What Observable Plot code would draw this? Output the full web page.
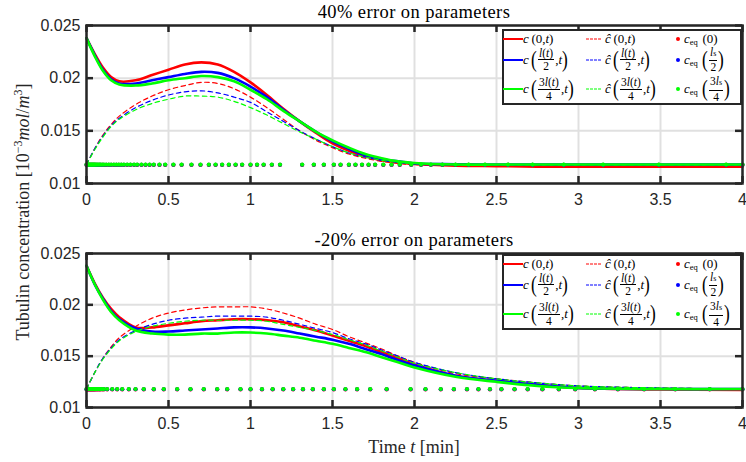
<!DOCTYPE html>
<html>
<head>
<meta charset="utf-8">
<script src="https://cdn.jsdelivr.net/npm/d3@7"></script>
<script src="https://cdn.jsdelivr.net/npm/@observablehq/plot@0.6"></script>
<style>
  html, body { margin: 0; padding: 0; background: #fff; }
  #wrap { position: relative; width: 746px; height: 462px; overflow: hidden; background: #fff; }
  .abs { position: absolute; }
  .title { font-family: "Liberation Serif", serif; font-size: 18.5px; color: #000; white-space: nowrap; transform: translate(-50%, -50%); letter-spacing: 0.4px; }
  .ylab { font-family: "Liberation Serif", serif; font-size: 18px; color: #262626; white-space: nowrap; transform: translate(-50%, -50%) rotate(-90deg); }
  .xlab { font-family: "Liberation Serif", serif; font-size: 18px; color: #262626; white-space: nowrap; transform: translate(-50%, -50%); }
  .legend { position: absolute; box-sizing: border-box; border: 2.5px solid #262626; background: #fff; width: 240px; height: 76px; }
  .lg { position: absolute; display: flex; align-items: center; transform: translateY(-50%); font-family: "Liberation Serif", serif; font-size: 13px; line-height: 14px; color: #000; white-space: nowrap; }
  .frac { display: inline-flex; flex-direction: column; align-items: center; font-size: 11.5px; line-height: 12.5px; margin: 0 1px; }
  .frac .num { border-bottom: 0.9px solid #000; padding: 0 1px; }
  .bp { display: inline-block; font-size: 23px; line-height: 24px; transform: scaleX(0.75); margin: 0 -1px; font-weight: 300; }
  .sub { font-size: 8.5px; position: relative; top: 3px; margin-right: 2px; }
  .sw { position: absolute; transform: translateY(-50%); }
</style>
</head>
<body>
<div id="wrap"></div>
<script>
// ---------------- data ----------------
const tGrid = [0, 0.05, 0.1, 0.15, 0.2, 0.3, 0.4, 0.5, 0.6, 0.7, 0.8, 0.9, 1.0, 1.1, 1.2, 1.3, 1.4, 1.5, 1.6, 1.7, 1.8, 1.9, 2.0, 2.25, 2.5, 2.75, 3, 3.5, 4];

// Panel 1: 40% error on parameters
const p1cRed   = [0.0238, 0.0223, 0.0210, 0.0201, 0.0197, 0.0198, 0.0203, 0.0208, 0.0213, 0.0215, 0.0213, 0.0206, 0.0196, 0.0184, 0.0171, 0.0159, 0.0148, 0.0138, 0.0131, 0.0126, 0.0122, 0.0120, 0.01185, 0.0117, 0.01165, 0.0116, 0.0116, 0.0116, 0.0116];
const p1cBlue  = [0.0238, 0.0222, 0.0208, 0.0199, 0.0195, 0.0195, 0.0198, 0.0201, 0.0204, 0.0206, 0.0205, 0.0200, 0.0192, 0.0182, 0.0170, 0.0159, 0.0149, 0.0140, 0.0133, 0.0127, 0.0123, 0.0121, 0.0119, 0.01183, 0.0118, 0.0118, 0.0118, 0.0118, 0.0118];
const p1cGreen = [0.0238, 0.0221, 0.0207, 0.0198, 0.0194, 0.0193, 0.0195, 0.0198, 0.0200, 0.0202, 0.0201, 0.0197, 0.0189, 0.0180, 0.0169, 0.0159, 0.0149, 0.0141, 0.0134, 0.0128, 0.0124, 0.0121, 0.01195, 0.0118, 0.0118, 0.0118, 0.0118, 0.0118, 0.0118];
const p1hRed   = [0.0118, 0.0133, 0.0146, 0.0156, 0.0164, 0.0175, 0.0183, 0.0189, 0.0193, 0.0196, 0.0195, 0.0190, 0.0182, 0.0172, 0.0161, 0.0150, 0.0141, 0.0134, 0.0128, 0.0124, 0.0121, 0.0119, 0.0118, 0.01175, 0.0117, 0.0117, 0.01175, 0.0118, 0.0118];
const p1hBlue  = [0.0118, 0.0133, 0.0145, 0.0155, 0.0162, 0.0172, 0.0179, 0.0184, 0.0187, 0.0188, 0.0186, 0.0182, 0.0177, 0.0168, 0.0159, 0.0150, 0.0142, 0.0135, 0.0129, 0.0125, 0.0122, 0.0120, 0.0119, 0.0118, 0.0118, 0.0118, 0.0118, 0.0118, 0.0118];
const p1hGreen = [0.0118, 0.0132, 0.0144, 0.0154, 0.0161, 0.0170, 0.0176, 0.0180, 0.0183, 0.0183, 0.0182, 0.0178, 0.0172, 0.0165, 0.0157, 0.0149, 0.0142, 0.0135, 0.0129, 0.0125, 0.0122, 0.0120, 0.0119, 0.0118, 0.0118, 0.0118, 0.0118, 0.0118, 0.0118];

// Panel 2: -20% error on parameters
const p2cRed   = [0.0238, 0.0221, 0.0207, 0.0196, 0.0188, 0.0178, 0.0178, 0.0180, 0.0182, 0.0184, 0.0185, 0.0186, 0.0186, 0.0185, 0.0183, 0.0179, 0.0175, 0.0170, 0.0165, 0.0160, 0.0154, 0.0148, 0.0142, 0.0131, 0.0126, 0.0122, 0.0119, 0.01175, 0.0117];
const p2cBlue  = [0.0238, 0.0220, 0.0206, 0.0194, 0.0186, 0.0177, 0.0174, 0.0174, 0.0175, 0.0176, 0.0177, 0.0178, 0.0178, 0.0177, 0.0175, 0.0172, 0.0169, 0.0166, 0.0162, 0.0157, 0.0152, 0.0146, 0.0141, 0.0131, 0.0126, 0.0122, 0.0119, 0.0118, 0.0118];
const p2cGreen = [0.0238, 0.0220, 0.0205, 0.0193, 0.0185, 0.0175, 0.0172, 0.0171, 0.0171, 0.0172, 0.0172, 0.0173, 0.0173, 0.0172, 0.0170, 0.0168, 0.0165, 0.0162, 0.0158, 0.0154, 0.0149, 0.0144, 0.0139, 0.0130, 0.0125, 0.0121, 0.0119, 0.0118, 0.0118];
const p2hRed   = [0.0118, 0.0134, 0.0148, 0.0159, 0.0168, 0.0179, 0.0187, 0.0192, 0.0195, 0.0197, 0.0198, 0.0198, 0.0198, 0.0196, 0.0192, 0.0187, 0.0181, 0.0176, 0.0169, 0.0163, 0.0157, 0.0150, 0.0144, 0.0133, 0.0128, 0.0124, 0.0121, 0.0119, 0.0118];
const p2hBlue  = [0.0118, 0.0134, 0.0148, 0.0158, 0.0166, 0.0175, 0.0181, 0.0185, 0.0187, 0.0188, 0.0189, 0.0189, 0.0189, 0.0188, 0.0185, 0.0181, 0.0177, 0.0173, 0.0167, 0.0162, 0.0156, 0.0150, 0.0144, 0.0134, 0.0128, 0.0124, 0.0121, 0.0119, 0.0118];
const p2hGreen = [0.0118, 0.0134, 0.0147, 0.0157, 0.0165, 0.0174, 0.0179, 0.0182, 0.0184, 0.0185, 0.0185, 0.0185, 0.0185, 0.0184, 0.0181, 0.0178, 0.0175, 0.0171, 0.0166, 0.0161, 0.0155, 0.0149, 0.0143, 0.0134, 0.0128, 0.0124, 0.0121, 0.0119, 0.0118];

// equilibrium concentrations (dots at solver time steps)
const eqValues = [0.01176, 0.01178, 0.0118]; // c_eq(0), c_eq(ls/2), c_eq(3ls/4)
const p1EqT = [0, 0.005, 0.01, 0.015, 0.02, 0.025, 0.03, 0.035, 0.04, 0.045, 0.05, 0.056, 0.063, 0.07, 0.078, 0.086, 0.096, 0.106, 0.12, 0.136, 0.15, 0.167, 0.182, 0.197, 0.212, 0.228, 0.248, 0.268, 0.29, 0.309, 0.335, 0.36, 0.385, 0.41, 0.445, 0.48, 0.53, 0.58, 0.64, 0.695, 0.746, 0.787, 0.827, 0.868, 0.909, 0.949, 1.0, 1.04, 1.08, 1.13, 1.18, 1.315, 1.386, 1.447, 1.508, 1.549, 1.6, 1.64, 1.68, 1.72, 1.76, 1.81, 1.86, 1.91, 1.98, 2.04, 2.1, 2.17, 2.25, 2.33, 2.43, 2.57, 2.72, 2.91, 3.15, 3.49, 3.9, 4.0];
const p2EqT = [0, 0.005, 0.01, 0.015, 0.02, 0.025, 0.03, 0.035, 0.04, 0.045, 0.05, 0.056, 0.063, 0.07, 0.078, 0.085, 0.096, 0.106, 0.126, 0.157, 0.187, 0.218, 0.258, 0.299, 0.349, 0.41, 0.471, 0.553, 0.634, 0.715, 0.797, 0.858, 0.939, 1.0, 1.07, 1.135, 1.2, 1.26, 1.32, 1.38, 1.447, 1.508, 1.579, 1.65, 1.73, 1.83, 1.976, 2.067, 2.16, 2.24, 2.32, 2.39, 2.46, 2.53, 2.61, 2.69, 2.78, 2.88, 2.98, 3.1, 3.24, 3.4, 3.59, 3.8, 4.0];

const xTicks = [0, 0.5, 1, 1.5, 2, 2.5, 3, 3.5, 4];
const xTickLabels = ["0", "0.5", "1", "1.5", "2", "2.5", "3", "3.5", "4"];
const yTicks = [0.01, 0.015, 0.02, 0.025];
const yTickLabels = ["0.01", "0.015", "0.02", "0.025"];
const colors = ["#ff0000", "#0000ff", "#00ff00"];
const panelTitles = ["40% error on parameters", "-20% error on parameters"];

// ---------------- drawing ----------------
const wrap = document.getElementById("wrap");
const toRows = (ts, vs) => ts.map((t, i) => ({t, v: vs[i]}));

function panel(solid, dashed, eqT, top, innerH) {
  const W = 746, mt = 25, mb = 27, ml = 86, mr = 4;
  const H = mt + innerH + mb;
  const innerW = W - ml - mr;
  const ink = "#262626";
  const marks = [
    Plot.gridX(xTicks, {stroke: "#e0e0e0", strokeOpacity: 1, strokeWidth: 2}),
    Plot.gridY(yTicks, {stroke: "#e0e0e0", strokeOpacity: 1, strokeWidth: 2})
  ];
  for (let k = 0; k < 3; k++) {
    marks.push(Plot.line(toRows(tGrid, solid[k]), {x: "t", y: "v", stroke: colors[k], strokeWidth: 2.6, curve: "catmull-rom"}));
    marks.push(Plot.line(toRows(tGrid, dashed[k]), {x: "t", y: "v", stroke: colors[k], strokeWidth: 1.2, strokeDasharray: "4.5,3.5", curve: "catmull-rom"}));
    marks.push(Plot.dot(eqT.map(t => ({t, v: eqValues[k]})), {x: "t", y: "v", fill: colors[k], r: 2.1}));
  }
  marks.push(
    Plot.frame({stroke: ink, strokeWidth: 2.5}),
    Plot.tickX(xTicks, {x: d => d, stroke: ink, strokeWidth: 2.5, insetTop: innerH - 7}),
    Plot.tickX(xTicks, {x: d => d, stroke: ink, strokeWidth: 2.5, insetBottom: innerH - 7}),
    Plot.tickY(yTicks, {y: d => d, stroke: ink, strokeWidth: 2.5, insetLeft: innerW - 7}),
    Plot.tickY(yTicks, {y: d => d, stroke: ink, strokeWidth: 2.5, insetRight: innerW - 7}),
    Plot.axisX(xTicks, {anchor: "bottom", tickSize: 0, tickPadding: 10, fill: ink, fontSize: 16, tickFormat: d => xTickLabels[xTicks.indexOf(d)], label: null}),
    Plot.axisY(yTicks, {anchor: "left", tickSize: 0, tickPadding: 6, fill: ink, fontSize: 16, tickFormat: d => yTickLabels[yTicks.indexOf(d)], label: null})
  );
  const svg = Plot.plot({
    width: W, height: H,
    marginTop: mt, marginBottom: mb, marginLeft: ml, marginRight: mr,
    x: {domain: [0, 4]},
    y: {domain: [0.01, 0.025]},
    style: {fontFamily: "'Liberation Sans', Arial, sans-serif", fontSize: "16px", background: "transparent", color: ink},
    marks
  });
  svg.style.position = "absolute";
  svg.style.left = "0px";
  svg.style.top = top + "px";
  wrap.appendChild(svg);
}

panel([p1cRed, p1cBlue, p1cGreen], [p1hRed, p1hBlue, p1hGreen], p1EqT, 0, 158);
panel([p2cRed, p2cBlue, p2cGreen], [p2hRed, p2hBlue, p2hGreen], p2EqT, 228, 154);

function addDiv(cls, html, left, top) {
  const d = document.createElement("div");
  d.className = "abs " + cls;
  d.innerHTML = html;
  d.style.left = left + "px";
  d.style.top = top + "px";
  wrap.appendChild(d);
  return d;
}

addDiv("title", panelTitles[0], 414, 12);
addDiv("title", panelTitles[1], 414, 240);
addDiv("ylab", 'Tubulin concentration [10<sup style="font-size:12px">−3</sup><i>mol</i>/<i>m</i><sup style="font-size:12px">3</sup>]', 22, 212);
addDiv("xlab", 'Time <i>t</i> [min]', 414, 447);

// legend
const frac = (n, d) => `<span class="frac"><span class="num">${n}</span><span class="den">${d}</span></span>`;
const bp = s => `<span class="bp">${s}</span>`;
const legendArgs = [
  {c: `&thinsp;(0, <i>t</i>)`, eq: `&thinsp;(0)`},
  {c: `&thinsp;${bp("(")}${frac('<i>l</i>(<i>t</i>)', '2')}, <i>t</i>${bp(")")}`, eq: `&thinsp;${bp("(")}${frac('<i>l</i><span style="font-size:8px;font-style:normal">s</span>', '2')}${bp(")")}`},
  {c: `&thinsp;${bp("(")}${frac('3<i>l</i>(<i>t</i>)', '4')}, <i>t</i>${bp(")")}`, eq: `&thinsp;${bp("(")}${frac('3<i>l</i><span style="font-size:8px;font-style:normal">s</span>', '4')}${bp(")")}`}
];
const rowY = [7.5, 28.5, 58];

function legend(top) {
  const box = document.createElement("div");
  box.className = "legend";
  box.style.left = "502px";
  box.style.top = top + "px";
  wrap.appendChild(box);
  for (let k = 0; k < 3; k++) {
    const y = rowY[k];
    const s1 = document.createElement("div");
    s1.className = "sw";
    s1.style.cssText += `left:-1px;top:${y}px;width:20px;height:0;border-top:2.6px solid ${colors[k]};`;
    box.appendChild(s1);
    const s2 = document.createElement("div");
    s2.className = "sw";
    s2.style.cssText += `left:82px;top:${y}px;width:15px;height:0;border-top:1.2px dashed ${colors[k]};`;
    box.appendChild(s2);
    const s3 = document.createElement("div");
    s3.className = "sw";
    s3.style.cssText += `left:172px;top:${y}px;width:4px;height:4px;border-radius:50%;background:${colors[k]};`;
    box.appendChild(s3);
    const t1 = document.createElement("div");
    t1.className = "lg";
    t1.style.left = "19px"; t1.style.top = y + "px";
    t1.innerHTML = `<i>c</i>${legendArgs[k].c}`;
    box.appendChild(t1);
    const t2 = document.createElement("div");
    t2.className = "lg";
    t2.style.left = "101px"; t2.style.top = y + "px";
    t2.innerHTML = `<i>ĉ</i>${legendArgs[k].c}`;
    box.appendChild(t2);
    const t3 = document.createElement("div");
    t3.className = "lg";
    t3.style.left = "180px"; t3.style.top = y + "px";
    t3.innerHTML = `<i>c</i><span class="sub">eq</span>${legendArgs[k].eq}`;
    box.appendChild(t3);
  }
}
legend(29);
legend(254);
</script>
</body>
</html>
